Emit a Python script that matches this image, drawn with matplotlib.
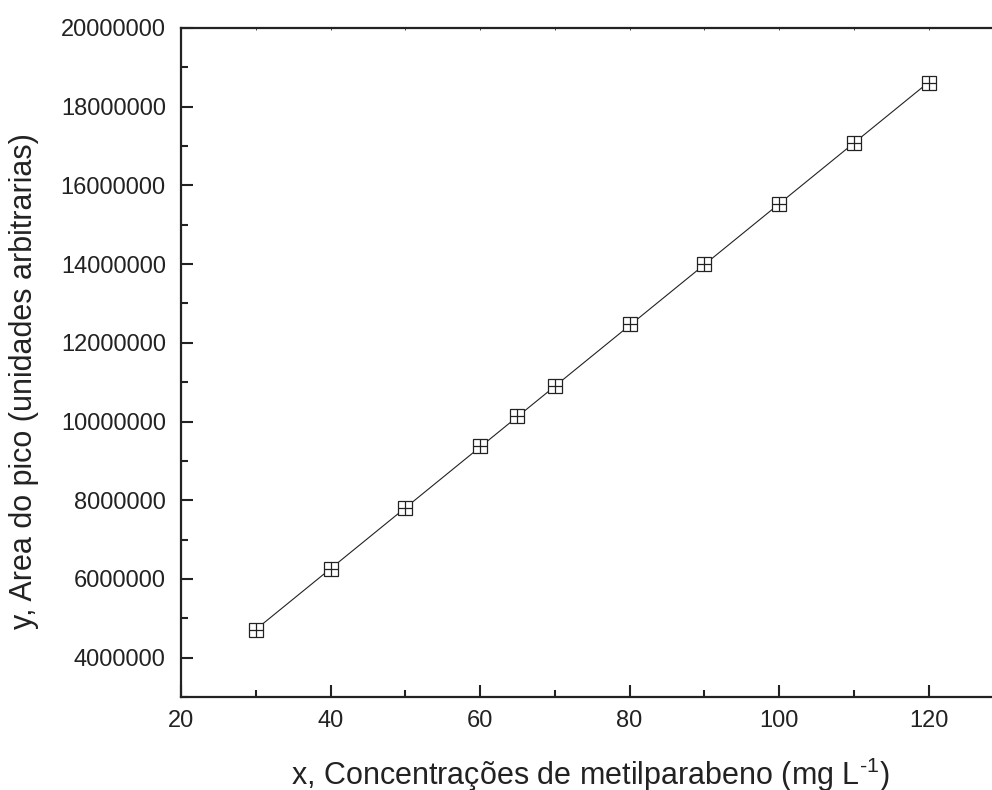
import numpy as np
import matplotlib
matplotlib.use('Agg')
import matplotlib.pyplot as plt
from matplotlib.ticker import MultipleLocator

plt.rcParams['font.family'] = ['Liberation Sans', 'DejaVu Sans']
plt.rcParams['mathtext.fontset'] = 'custom'
plt.rcParams['mathtext.rm'] = 'Liberation Sans'
plt.rcParams['mathtext.default'] = 'regular'

# Calibration data: methylparaben concentration vs. peak area
concentracao = [30, 40, 50, 60, 65, 70, 80, 90, 100, 110, 120]
area_pico = [4700000, 6250000, 7800000, 9370000, 10130000, 10900000,
             12470000, 13990000, 15520000, 17080000, 18600000]

# Linear fit drawn across the measured range
coef = np.polyfit(concentracao, area_pico, 1)
x_fit = np.array([min(concentracao), max(concentracao)])
y_fit = np.polyval(coef, x_fit)

cor = '#222222'

fig = plt.figure(figsize=(9.92, 7.9), dpi=100)
ax = fig.add_axes([0.1825, 0.1177, 0.829, 0.8469])

ax.plot(x_fit, y_fit, color=cor, linewidth=0.8, zorder=2)
ax.plot(concentracao, area_pico, linestyle='none', marker='s', markersize=9.4,
        markerfacecolor='white', markeredgecolor=cor, markeredgewidth=0.9, zorder=3)
ax.plot(concentracao, area_pico, linestyle='none', marker='+', markersize=9.4,
        markeredgecolor=cor, markeredgewidth=0.9, zorder=4)

ax.set_xlim(20, 130)
ax.set_ylim(3000000, 20000000)
ax.xaxis.set_major_locator(MultipleLocator(20))
ax.xaxis.set_minor_locator(MultipleLocator(10))
ax.yaxis.set_major_locator(MultipleLocator(2000000))
ax.yaxis.set_minor_locator(MultipleLocator(1000000))
ax.ticklabel_format(axis='y', style='plain', useOffset=False)

for side in ['left', 'bottom', 'top']:
    ax.spines[side].set_linewidth(1.6)
    ax.spines[side].set_color(cor)
ax.spines['right'].set_visible(False)

ax.tick_params(which='major', direction='in', length=8.6, width=1.5, color=cor,
               labelsize=17, labelcolor=cor, right=False)
ax.tick_params(which='minor', direction='in', length=5, width=1.5, color=cor, right=False)
ax.tick_params(axis='x', which='major', pad=9)
ax.tick_params(axis='y', which='major', pad=11)
ax.tick_params(axis='x', which='both', top=True, labeltop=False)

# top ticks are only thin marks across the spine
for t in ax.xaxis.get_ticklines(minor=False)[1::2] + ax.xaxis.get_ticklines(minor=True)[1::2]:
    t.set_markeredgewidth(0.6)
    t.set_markersize(1.5)

fig.text(590 / 992, 5 / 790, 'x, Concentrações de metilparabeno (mg L$^{\\text{-}1}$)',
         fontsize=22, color=cor, ha='center', va='baseline')
fig.text(24 / 992, 1 - 381 / 790, 'y, Area do pico (unidades arbitrarias)',
         fontsize=22, color=cor, rotation=90, ha='center', va='center')

fig.savefig('out.png', dpi=100)
